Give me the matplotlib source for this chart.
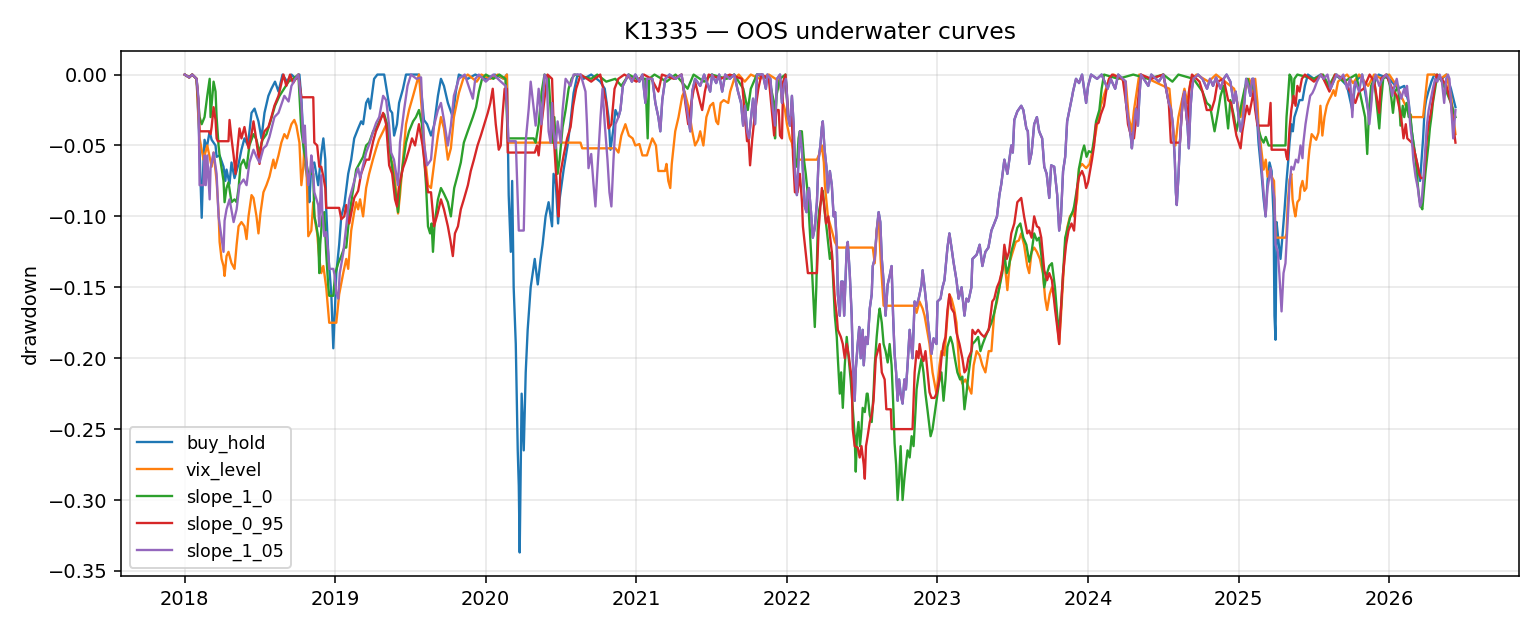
import numpy as np
import pandas as pd
import matplotlib
matplotlib.use("Agg")
import matplotlib.pyplot as plt
import matplotlib.dates as mdates

# -------------------------------
# Data: (years since 2018-01-01, drawdown)
# -------------------------------
START = pd.Timestamp("2018-01-01")

# buy_hold, before it merges with slope_1_05
buy_hold_head = [
    (0.000, 0.0), (0.030, -0.002), (0.050, 0.0), (0.079, -0.003), (0.095, -0.040), (0.113, -0.101),
    (0.125, -0.060), (0.132, -0.046), (0.146, -0.052), (0.166, -0.040), (0.179, -0.046), (0.205, -0.050),
    (0.212, -0.058), (0.232, -0.057), (0.258, -0.065), (0.270, -0.075), (0.278, -0.067), (0.298, -0.077),
    (0.311, -0.062), (0.331, -0.073), (0.358, -0.063), (0.377, -0.053), (0.397, -0.045), (0.420, -0.050),
    (0.444, -0.027), (0.464, -0.024), (0.490, -0.033), (0.510, -0.045), (0.530, -0.027), (0.556, -0.015),
    (0.576, -0.010), (0.600, -0.005), (0.623, -0.012), (0.650, 0.0), (0.680, -0.005), (0.709, 0.0),
    (0.740, -0.003), (0.762, 0.0), (0.775, -0.017), (0.795, -0.060), (0.821, -0.078), (0.828, -0.090),
    (0.841, -0.064), (0.861, -0.062), (0.887, -0.078), (0.907, -0.056), (0.921, -0.045), (0.934, -0.060),
    (0.940, -0.095), (0.954, -0.127), (0.974, -0.155), (0.987, -0.193), (1.000, -0.160), (1.007, -0.140),
    (1.026, -0.120), (1.040, -0.100), (1.060, -0.092), (1.086, -0.070), (1.106, -0.060), (1.126, -0.045),
    (1.152, -0.038), (1.172, -0.033), (1.185, -0.035), (1.205, -0.020), (1.219, -0.017), (1.232, -0.024),
    (1.258, -0.003), (1.280, 0.0), (1.325, 0.0), (1.351, -0.017), (1.364, -0.025), (1.378, -0.027),
    (1.391, -0.043), (1.410, -0.035), (1.424, -0.020), (1.450, -0.010), (1.470, 0.0), (1.556, 0.0),
    (1.576, -0.017), (1.589, -0.032), (1.610, -0.035), (1.636, -0.043), (1.656, -0.036), (1.682, -0.015),
    (1.702, -0.003), (1.722, -0.008), (1.748, -0.020), (1.781, -0.030), (1.801, -0.012), (1.821, 0.0),
    (1.880, -0.003), (1.930, 0.0), (2.000, -0.003), (2.060, 0.0), (2.120, -0.003), (2.140, 0.0),
    (2.152, -0.085), (2.166, -0.125), (2.175, -0.075), (2.185, -0.150), (2.199, -0.190), (2.212, -0.265),
    (2.219, -0.290), (2.225, -0.337), (2.238, -0.225), (2.252, -0.265), (2.265, -0.210), (2.278, -0.180),
    (2.298, -0.150), (2.325, -0.130), (2.345, -0.148), (2.364, -0.130), (2.377, -0.120), (2.397, -0.100),
    (2.417, -0.090), (2.440, -0.107), (2.450, -0.070), (2.465, -0.077), (2.480, -0.105), (2.490, -0.088),
    (2.517, -0.067), (2.543, -0.050), (2.563, -0.033), (2.583, -0.013), (2.609, 0.0), (2.650, -0.003),
    (2.700, 0.0), (2.760, -0.005), (2.790, -0.010), (2.815, -0.030), (2.828, -0.053), (2.845, -0.040),
    (2.861, -0.025), (2.881, -0.030),
]

# stretch where buy_hold and slope_1_05 overlap (late 2020 to early 2025)
shared_mid = [
    (2.894, -0.025), (2.910, -0.008), (2.947, 0.0), (2.970, -0.005), (2.993, 0.0), (3.020, -0.005),
    (3.040, 0.0), (3.060, -0.020), (3.070, -0.003), (3.106, -0.003), (3.126, -0.020), (3.146, -0.030),
    (3.159, -0.040), (3.172, -0.018), (3.192, -0.003), (3.220, 0.0), (3.260, -0.003), (3.300, 0.0),
    (3.344, -0.030), (3.358, -0.040), (3.371, -0.012), (3.390, -0.003), (3.424, -0.008), (3.450, 0.0),
    (3.490, -0.012), (3.503, 0.0), (3.530, -0.006), (3.550, 0.0), (3.570, -0.012), (3.590, 0.0),
    (3.620, -0.003), (3.650, 0.0), (3.675, -0.012), (3.695, -0.020), (3.709, -0.036), (3.722, -0.022),
    (3.735, -0.040), (3.748, -0.045), (3.762, -0.030), (3.775, -0.017), (3.788, -0.035), (3.801, 0.0),
    (3.840, 0.0), (3.860, -0.010), (3.870, 0.0), (3.890, -0.003), (3.907, -0.025), (3.921, -0.036),
    (3.934, -0.003), (3.954, 0.0), (3.967, -0.020), (3.980, -0.007), (3.993, -0.003), (4.000, -0.014),
    (4.007, -0.030), (4.020, -0.036), (4.033, -0.015), (4.045, -0.036), (4.053, -0.070), (4.066, -0.085),
    (4.077, -0.060), (4.086, -0.040), (4.099, -0.052), (4.110, -0.077), (4.119, -0.093), (4.130, -0.097),
    (4.139, -0.083), (4.146, -0.080), (4.160, -0.097), (4.172, -0.115), (4.185, -0.108), (4.199, -0.090),
    (4.210, -0.060), (4.222, -0.050), (4.232, -0.037), (4.238, -0.033), (4.250, -0.053), (4.262, -0.065),
    (4.272, -0.083), (4.285, -0.068), (4.298, -0.078), (4.310, -0.100), (4.320, -0.097), (4.331, -0.120),
    (4.338, -0.155), (4.351, -0.170), (4.360, -0.146), (4.371, -0.146), (4.380, -0.170), (4.397, -0.122),
    (4.404, -0.118), (4.417, -0.140), (4.430, -0.170), (4.437, -0.200), (4.450, -0.230), (4.457, -0.208),
    (4.470, -0.190), (4.480, -0.178), (4.490, -0.200), (4.503, -0.180), (4.510, -0.205), (4.523, -0.185),
    (4.536, -0.190), (4.550, -0.165), (4.563, -0.155), (4.570, -0.135), (4.583, -0.130), (4.596, -0.110),
    (4.609, -0.097), (4.620, -0.104), (4.630, -0.130), (4.642, -0.146), (4.655, -0.170), (4.669, -0.148),
    (4.682, -0.142), (4.695, -0.135), (4.705, -0.170), (4.715, -0.197), (4.725, -0.210), (4.735, -0.230),
    (4.745, -0.215), (4.755, -0.225), (4.768, -0.232), (4.780, -0.215), (4.790, -0.222), (4.801, -0.205),
    (4.815, -0.180), (4.834, -0.200), (4.848, -0.160), (4.861, -0.163), (4.875, -0.158), (4.894, -0.148),
    (4.901, -0.138), (4.914, -0.150), (4.927, -0.163), (4.940, -0.178), (4.960, -0.197), (4.974, -0.186),
    (4.993, -0.190), (5.000, -0.160), (5.020, -0.158), (5.033, -0.150), (5.046, -0.145), (5.066, -0.122),
    (5.079, -0.112), (5.093, -0.122), (5.106, -0.132), (5.126, -0.145), (5.140, -0.158), (5.160, -0.150),
    (5.179, -0.170), (5.192, -0.158), (5.205, -0.160), (5.225, -0.150), (5.232, -0.130), (5.260, -0.127),
    (5.280, -0.120), (5.298, -0.135), (5.318, -0.125), (5.338, -0.122), (5.358, -0.110), (5.377, -0.105),
    (5.395, -0.100), (5.411, -0.085), (5.424, -0.077), (5.444, -0.060), (5.464, -0.070), (5.477, -0.060),
    (5.490, -0.050), (5.500, -0.055), (5.510, -0.032), (5.530, -0.026), (5.556, -0.022), (5.570, -0.025),
    (5.590, -0.038), (5.600, -0.040), (5.609, -0.063), (5.625, -0.055), (5.642, -0.035), (5.660, -0.030),
    (5.675, -0.040), (5.695, -0.045), (5.709, -0.065), (5.725, -0.070), (5.742, -0.087), (5.755, -0.064),
    (5.775, -0.065), (5.795, -0.085), (5.808, -0.110), (5.820, -0.100), (5.834, -0.068), (5.848, -0.058),
    (5.861, -0.033), (5.880, -0.023), (5.895, -0.015), (5.900, -0.012), (5.920, -0.003), (5.940, -0.006),
    (5.960, 0.0), (5.987, -0.020), (6.000, -0.008), (6.020, 0.0), (6.060, -0.003), (6.090, 0.0),
    (6.130, -0.010), (6.150, -0.003), (6.180, -0.010), (6.200, 0.0), (6.250, -0.005), (6.252, -0.020),
    (6.265, -0.030), (6.272, -0.035), (6.285, -0.045), (6.291, -0.052), (6.305, -0.035), (6.318, -0.024),
    (6.331, -0.036), (6.340, -0.017), (6.351, 0.0), (6.400, -0.008), (6.420, 0.0), (6.470, -0.005),
    (6.500, 0.0), (6.536, -0.020), (6.550, -0.024), (6.563, -0.035), (6.576, -0.060), (6.583, -0.083),
    (6.589, -0.092), (6.600, -0.072), (6.610, -0.048), (6.620, -0.030), (6.630, -0.017), (6.640, -0.012),
    (6.649, -0.024), (6.660, -0.035), (6.669, -0.052), (6.680, -0.024), (6.690, -0.010), (6.700, -0.003),
    (6.730, 0.0), (6.760, -0.003), (6.790, -0.010), (6.810, -0.003), (6.830, -0.008), (6.850, -0.002),
    (6.880, -0.010), (6.900, -0.003), (6.920, 0.0), (6.945, -0.005), (6.967, -0.020), (6.980, -0.012),
    (6.990, -0.020), (7.000, -0.030), (7.013, -0.040), (7.025, -0.035), (7.040, -0.017), (7.050, -0.003),
    (7.065, -0.008), (7.078, -0.015), (7.090, -0.003), (7.099, -0.003),
]

buy_hold_tail = [
    (7.119, -0.025), (7.132, -0.048), (7.152, -0.070), (7.166, -0.088), (7.179, -0.100), (7.192, -0.075),
    (7.205, -0.062), (7.219, -0.068), (7.232, -0.100), (7.238, -0.170), (7.245, -0.187), (7.252, -0.104),
    (7.265, -0.118), (7.278, -0.130), (7.290, -0.115), (7.305, -0.095), (7.318, -0.075), (7.330, -0.060),
    (7.338, -0.048), (7.350, -0.035), (7.360, -0.040), (7.370, -0.030), (7.385, -0.025), (7.404, -0.018),
    (7.424, -0.018), (7.440, -0.008), (7.460, 0.0), (7.500, -0.003), (7.545, 0.0), (7.610, -0.010),
    (7.650, 0.0), (7.720, -0.008), (7.755, -0.025), (7.775, -0.005), (7.820, 0.0), (7.868, -0.030),
    (7.890, -0.008), (7.930, 0.0), (8.000, -0.003), (8.060, -0.010), (8.100, -0.008), (8.130, -0.020),
    (8.150, -0.040), (8.170, -0.055), (8.190, -0.065), (8.205, -0.075), (8.215, -0.060), (8.225, -0.045),
    (8.235, -0.025), (8.245, -0.018), (8.260, -0.012), (8.280, -0.005), (8.300, 0.0), (8.350, -0.003),
    (8.380, 0.0), (8.410, -0.010), (8.440, -0.023),
]

slope_1_05_head = [
    (0.000, 0.0), (0.030, -0.002), (0.050, 0.0), (0.079, -0.003), (0.092, -0.017), (0.099, -0.078),
    (0.125, -0.078), (0.132, -0.057), (0.140, -0.078), (0.150, -0.057), (0.166, -0.088), (0.172, -0.066),
    (0.192, -0.055), (0.212, -0.070), (0.225, -0.100), (0.245, -0.115), (0.258, -0.125), (0.265, -0.103),
    (0.278, -0.095), (0.298, -0.088), (0.325, -0.104), (0.345, -0.095), (0.364, -0.078), (0.391, -0.074),
    (0.411, -0.078), (0.430, -0.062), (0.457, -0.053), (0.477, -0.058), (0.497, -0.062), (0.523, -0.052),
    (0.543, -0.050), (0.563, -0.044), (0.596, -0.030), (0.623, -0.027), (0.662, -0.015), (0.690, -0.019),
    (0.709, -0.008), (0.735, -0.003), (0.755, 0.0), (0.775, -0.020), (0.788, -0.048), (0.798, -0.036),
    (0.808, -0.060), (0.821, -0.078), (0.834, -0.068), (0.841, -0.057), (0.850, -0.064), (0.861, -0.083),
    (0.887, -0.092), (0.894, -0.107), (0.907, -0.071), (0.914, -0.097), (0.927, -0.114), (0.940, -0.111),
    (0.954, -0.126), (0.960, -0.137), (0.987, -0.137), (0.995, -0.141), (1.007, -0.154), (1.020, -0.158),
    (1.030, -0.140), (1.053, -0.126), (1.073, -0.107), (1.093, -0.088), (1.119, -0.078), (1.139, -0.070),
    (1.152, -0.066), (1.165, -0.073), (1.205, -0.055), (1.230, -0.048), (1.252, -0.040), (1.272, -0.034),
    (1.292, -0.030), (1.318, -0.015), (1.338, -0.018), (1.358, -0.036), (1.371, -0.055), (1.390, -0.060),
    (1.417, -0.078), (1.430, -0.048), (1.457, -0.025), (1.480, -0.008), (1.503, 0.0), (1.540, -0.003),
    (1.570, -0.002), (1.589, -0.048), (1.610, -0.064), (1.636, -0.060), (1.656, -0.036), (1.682, -0.025),
    (1.702, -0.020), (1.722, -0.032), (1.748, -0.050), (1.768, -0.036), (1.788, -0.015), (1.821, -0.003),
    (1.860, 0.0), (1.914, -0.017), (1.930, -0.003), (1.954, 0.0), (2.000, -0.005), (2.050, 0.0),
    (2.100, -0.005), (2.132, -0.008), (2.152, -0.047), (2.199, -0.047), (2.219, -0.110), (2.252, -0.110),
    (2.265, -0.047), (2.285, -0.024), (2.298, -0.005), (2.331, -0.036), (2.351, -0.010), (2.370, -0.035),
    (2.390, 0.0), (2.405, -0.003), (2.417, -0.040), (2.430, -0.048), (2.440, -0.020), (2.450, -0.040),
    (2.464, -0.052), (2.477, -0.033), (2.497, -0.048), (2.510, -0.025), (2.530, -0.003), (2.563, -0.008),
    (2.583, 0.0), (2.630, 0.0), (2.662, -0.012), (2.672, -0.035), (2.682, -0.066), (2.700, -0.056),
    (2.715, -0.077), (2.728, -0.093), (2.740, -0.070), (2.762, -0.030), (2.775, -0.010), (2.790, -0.035),
    (2.808, -0.060), (2.821, -0.083), (2.834, -0.093), (2.848, -0.060), (2.861, -0.035), (2.881, -0.030),
]

slope_1_05_tail = [
    (7.119, -0.027), (7.132, -0.040), (7.145, -0.055), (7.152, -0.065), (7.166, -0.083), (7.179, -0.100),
    (7.192, -0.080), (7.200, -0.075), (7.212, -0.066), (7.225, -0.078), (7.238, -0.088), (7.245, -0.120),
    (7.260, -0.125), (7.270, -0.140), (7.285, -0.167), (7.298, -0.140), (7.311, -0.133), (7.320, -0.115),
    (7.330, -0.096), (7.338, -0.078), (7.350, -0.065), (7.365, -0.067), (7.380, -0.060), (7.395, -0.062),
    (7.404, -0.056), (7.411, -0.050), (7.424, -0.059), (7.430, -0.048), (7.444, -0.035), (7.460, -0.024),
    (7.475, -0.015), (7.490, -0.013), (7.503, -0.010), (7.520, -0.005), (7.545, 0.0), (7.565, -0.003),
    (7.590, 0.0), (7.610, -0.010), (7.630, -0.005), (7.650, 0.0), (7.675, -0.003), (7.695, 0.0),
    (7.720, -0.010), (7.740, -0.003), (7.755, -0.030), (7.765, -0.010), (7.775, -0.005), (7.800, -0.012),
    (7.820, 0.0), (7.845, -0.012), (7.858, -0.024), (7.868, -0.035), (7.880, -0.022), (7.890, -0.008),
    (7.910, 0.0), (7.934, -0.008), (7.955, -0.003), (7.980, 0.0), (8.000, -0.003), (8.020, -0.015),
    (8.035, -0.008), (8.050, -0.003), (8.065, -0.012), (8.080, -0.017), (8.090, -0.013), (8.100, -0.010),
    (8.110, -0.015), (8.118, -0.008), (8.128, -0.018), (8.140, -0.036), (8.150, -0.045), (8.160, -0.060),
    (8.175, -0.072), (8.190, -0.080), (8.205, -0.093), (8.215, -0.090), (8.228, -0.072), (8.238, -0.055),
    (8.250, -0.036), (8.262, -0.025), (8.275, -0.018), (8.290, -0.010), (8.305, -0.003), (8.320, -0.005),
    (8.335, 0.0), (8.350, -0.005), (8.365, -0.020), (8.378, -0.003), (8.390, 0.0), (8.400, -0.003),
    (8.410, -0.020), (8.425, -0.045), (8.440, -0.025),
]

vix_level = [
    (0.000, 0.0), (0.030, -0.002), (0.050, 0.0), (0.079, -0.003), (0.099, -0.045), (0.125, -0.060),
    (0.150, -0.050), (0.179, -0.065), (0.192, -0.055), (0.212, -0.075), (0.225, -0.097), (0.232, -0.118),
    (0.245, -0.130), (0.258, -0.135), (0.265, -0.142), (0.278, -0.128), (0.291, -0.125), (0.311, -0.133),
    (0.331, -0.137), (0.345, -0.120), (0.358, -0.107), (0.377, -0.104), (0.397, -0.107), (0.411, -0.116),
    (0.424, -0.100), (0.444, -0.085), (0.457, -0.087), (0.477, -0.100), (0.490, -0.112), (0.503, -0.098),
    (0.523, -0.083), (0.543, -0.078), (0.563, -0.072), (0.589, -0.060), (0.600, -0.066), (0.623, -0.057),
    (0.642, -0.048), (0.662, -0.042), (0.680, -0.045), (0.709, -0.035), (0.728, -0.032), (0.742, -0.036),
    (0.762, -0.048), (0.775, -0.078), (0.788, -0.065), (0.795, -0.050), (0.808, -0.060), (0.821, -0.114),
    (0.841, -0.110), (0.854, -0.090), (0.867, -0.104), (0.880, -0.112), (0.894, -0.130), (0.907, -0.140),
    (0.921, -0.135), (0.940, -0.150), (0.960, -0.175), (1.007, -0.175), (1.026, -0.155), (1.053, -0.140),
    (1.073, -0.130), (1.086, -0.137), (1.106, -0.110), (1.126, -0.097), (1.139, -0.090), (1.152, -0.095),
    (1.165, -0.088), (1.185, -0.100), (1.205, -0.080), (1.225, -0.070), (1.250, -0.060), (1.272, -0.052),
    (1.290, -0.046), (1.318, -0.040), (1.340, -0.035), (1.358, -0.042), (1.371, -0.060), (1.390, -0.066),
    (1.417, -0.098), (1.430, -0.085), (1.450, -0.060), (1.470, -0.035), (1.490, -0.025), (1.517, -0.015),
    (1.540, -0.006), (1.556, 0.0), (1.575, -0.025), (1.603, -0.065), (1.616, -0.078), (1.636, -0.080),
    (1.660, -0.060), (1.682, -0.043), (1.702, -0.030), (1.722, -0.038), (1.748, -0.060), (1.768, -0.052),
    (1.788, -0.030), (1.821, -0.013), (1.850, -0.003), (1.880, 0.0), (1.940, -0.005), (1.970, 0.0),
    (2.030, -0.003), (2.080, 0.0), (2.120, -0.003), (2.140, 0.0), (2.146, -0.048), (2.629, -0.048),
    (2.640, -0.052), (2.861, -0.052), (2.881, -0.055), (2.900, -0.043), (2.927, -0.035), (2.950, -0.043),
    (2.975, -0.045), (2.993, -0.050), (3.020, -0.049), (3.040, -0.057), (3.070, -0.057), (3.090, -0.050),
    (3.106, -0.045), (3.130, -0.050), (3.146, -0.068), (3.190, -0.068), (3.200, -0.063), (3.212, -0.075),
    (3.225, -0.080), (3.235, -0.063), (3.258, -0.040), (3.280, -0.030), (3.305, -0.015), (3.320, -0.012),
    (3.344, -0.022), (3.371, -0.040), (3.390, -0.050), (3.410, -0.046), (3.424, -0.040), (3.445, -0.050),
    (3.465, -0.030), (3.490, -0.022), (3.510, -0.020), (3.530, -0.033), (3.543, -0.035), (3.560, -0.020),
    (3.580, -0.018), (3.610, -0.020), (3.623, -0.012), (3.650, -0.003), (3.680, 0.0), (3.720, -0.005),
    (3.760, 0.0), (3.820, -0.003), (3.880, 0.0), (3.954, -0.005), (3.967, -0.017), (3.987, -0.025),
    (4.000, -0.035), (4.020, -0.045), (4.033, -0.048), (4.053, -0.060), (4.199, -0.060), (4.219, -0.055),
    (4.232, -0.050), (4.245, -0.062), (4.252, -0.078), (4.272, -0.100), (4.298, -0.110), (4.318, -0.118),
    (4.338, -0.122), (4.570, -0.122), (4.583, -0.133), (4.596, -0.110), (4.609, -0.100), (4.622, -0.130),
    (4.642, -0.163), (4.848, -0.163), (4.861, -0.168), (4.880, -0.160), (4.901, -0.165), (4.914, -0.170),
    (4.927, -0.178), (4.947, -0.190), (4.967, -0.210), (4.993, -0.225), (5.013, -0.205), (5.026, -0.195),
    (5.046, -0.198), (5.066, -0.170), (5.079, -0.155), (5.093, -0.158), (5.110, -0.165), (5.126, -0.175),
    (5.146, -0.210), (5.165, -0.218), (5.185, -0.215), (5.205, -0.220), (5.225, -0.225), (5.240, -0.205),
    (5.260, -0.195), (5.280, -0.198), (5.298, -0.205), (5.318, -0.210), (5.340, -0.195), (5.358, -0.195),
    (5.377, -0.168), (5.395, -0.160), (5.411, -0.150), (5.424, -0.140), (5.444, -0.130), (5.464, -0.152),
    (5.480, -0.132), (5.500, -0.125), (5.520, -0.118), (5.540, -0.117), (5.556, -0.112), (5.575, -0.120),
    (5.596, -0.135), (5.609, -0.140), (5.625, -0.125), (5.642, -0.122), (5.660, -0.125), (5.680, -0.130),
    (5.700, -0.140), (5.715, -0.158), (5.728, -0.166), (5.745, -0.155), (5.760, -0.150), (5.780, -0.160),
    (5.795, -0.175), (5.808, -0.190), (5.820, -0.170), (5.834, -0.145), (5.848, -0.120), (5.861, -0.108),
    (5.880, -0.100), (5.900, -0.097), (5.907, -0.100), (5.927, -0.088), (5.940, -0.066), (5.960, -0.063),
    (5.987, -0.066), (6.010, -0.063), (6.026, -0.055), (6.040, -0.048), (6.060, -0.035), (6.085, -0.022),
    (6.110, -0.013), (6.140, -0.003), (6.170, 0.0), (6.250, -0.005), (6.270, -0.030), (6.290, -0.040),
    (6.305, -0.025), (6.340, 0.0), (6.540, -0.010), (6.560, -0.035), (6.580, -0.050), (6.600, -0.030),
    (6.640, -0.010), (6.660, -0.020), (6.680, -0.005), (6.720, 0.0), (6.800, -0.005), (6.850, 0.0),
    (6.970, -0.010), (7.013, -0.030), (7.040, -0.012), (7.070, -0.003), (7.099, -0.012), (7.110, -0.003),
    (7.125, -0.020), (7.132, -0.036), (7.145, -0.048), (7.166, -0.067), (7.180, -0.060), (7.192, -0.072),
    (7.205, -0.068), (7.219, -0.072), (7.235, -0.075), (7.245, -0.115), (7.311, -0.115), (7.318, -0.112),
    (7.325, -0.093), (7.338, -0.074), (7.350, -0.070), (7.358, -0.088), (7.371, -0.097), (7.377, -0.100),
    (7.390, -0.090), (7.404, -0.088), (7.411, -0.080), (7.424, -0.075), (7.437, -0.082), (7.450, -0.080),
    (7.462, -0.062), (7.470, -0.053), (7.485, -0.042), (7.500, -0.044), (7.515, -0.046), (7.530, -0.041),
    (7.543, -0.022), (7.556, -0.043), (7.570, -0.030), (7.585, -0.022), (7.600, -0.018), (7.615, -0.015),
    (7.630, -0.011), (7.642, -0.015), (7.660, -0.005), (7.680, -0.003), (7.720, 0.0), (7.760, -0.006),
    (7.800, 0.0), (7.860, -0.008), (7.900, 0.0), (7.950, -0.003), (8.000, 0.0), (8.050, -0.008),
    (8.100, -0.020), (8.150, -0.030), (8.225, -0.030), (8.240, -0.015), (8.255, 0.0), (8.300, 0.0),
    (8.340, -0.003), (8.380, 0.0), (8.410, -0.015), (8.440, -0.042),
]

slope_1_0 = [
    (0.000, 0.0), (0.030, -0.002), (0.050, 0.0), (0.079, -0.003), (0.099, -0.030), (0.113, -0.035),
    (0.132, -0.030), (0.150, -0.015), (0.166, -0.003), (0.172, -0.030), (0.192, -0.005), (0.205, -0.012),
    (0.212, -0.030), (0.225, -0.050), (0.232, -0.057), (0.245, -0.066), (0.258, -0.075), (0.265, -0.090),
    (0.278, -0.080), (0.291, -0.076), (0.311, -0.090), (0.331, -0.088), (0.345, -0.090), (0.358, -0.080),
    (0.371, -0.064), (0.391, -0.060), (0.411, -0.066), (0.430, -0.050), (0.457, -0.042), (0.477, -0.046),
    (0.497, -0.055), (0.517, -0.046), (0.543, -0.042), (0.570, -0.033), (0.600, -0.022), (0.630, -0.015),
    (0.660, -0.010), (0.690, -0.005), (0.720, -0.003), (0.755, 0.0), (0.775, -0.040), (0.795, -0.055),
    (0.808, -0.062), (0.821, -0.070), (0.854, -0.070), (0.861, -0.100), (0.874, -0.106), (0.887, -0.115),
    (0.894, -0.140), (0.900, -0.120), (0.914, -0.100), (0.927, -0.097), (0.940, -0.126), (0.954, -0.150),
    (0.960, -0.156), (0.987, -0.156), (1.000, -0.140), (1.020, -0.133), (1.040, -0.128), (1.060, -0.122),
    (1.073, -0.122), (1.093, -0.100), (1.113, -0.085), (1.139, -0.067), (1.165, -0.062), (1.185, -0.058),
    (1.205, -0.050), (1.225, -0.048), (1.252, -0.040), (1.272, -0.038), (1.305, -0.030), (1.325, -0.028),
    (1.345, -0.035), (1.371, -0.060), (1.390, -0.075), (1.417, -0.097), (1.430, -0.078), (1.450, -0.063),
    (1.470, -0.048), (1.490, -0.040), (1.517, -0.033), (1.536, -0.030), (1.556, -0.025), (1.576, -0.035),
    (1.603, -0.078), (1.616, -0.107), (1.630, -0.112), (1.640, -0.105), (1.649, -0.125), (1.660, -0.105),
    (1.682, -0.088), (1.702, -0.080), (1.722, -0.084), (1.748, -0.090), (1.768, -0.100), (1.790, -0.080),
    (1.815, -0.070), (1.834, -0.062), (1.854, -0.048), (1.880, -0.040), (1.914, -0.030), (1.935, -0.023),
    (1.954, -0.012), (1.975, -0.003), (2.000, 0.0), (2.050, -0.003), (2.090, 0.0), (2.130, -0.003),
    (2.146, -0.045), (2.318, -0.045), (2.331, -0.048), (2.351, -0.035), (2.371, -0.012), (2.390, 0.0),
    (2.417, -0.002), (2.444, -0.048), (2.455, -0.030), (2.477, -0.070), (2.490, -0.060), (2.510, -0.037),
    (2.530, -0.025), (2.550, -0.010), (2.570, -0.003), (2.590, 0.0), (2.700, -0.003), (2.740, 0.0),
    (2.800, -0.005), (2.860, -0.003), (2.900, -0.008), (2.950, 0.0), (3.000, -0.003), (3.060, -0.003),
    (3.075, -0.045), (3.085, -0.003), (3.120, 0.0), (3.200, -0.005), (3.260, 0.0), (3.340, -0.010),
    (3.380, 0.0), (3.450, -0.005), (3.500, 0.0), (3.600, -0.003), (3.650, 0.0), (3.710, -0.010),
    (3.740, -0.025), (3.760, -0.010), (3.800, 0.0), (3.880, -0.003), (3.915, -0.020), (3.921, -0.045),
    (3.930, -0.015), (3.954, -0.003), (3.990, 0.0), (4.007, -0.030), (4.033, -0.030), (4.045, -0.045),
    (4.053, -0.060), (4.066, -0.065), (4.077, -0.045), (4.086, -0.040), (4.099, -0.040), (4.113, -0.060),
    (4.125, -0.070), (4.139, -0.085), (4.152, -0.110), (4.165, -0.135), (4.185, -0.178), (4.195, -0.150),
    (4.205, -0.107), (4.215, -0.095), (4.225, -0.090), (4.238, -0.082), (4.252, -0.098), (4.265, -0.110),
    (4.285, -0.130), (4.298, -0.125), (4.318, -0.170), (4.331, -0.185), (4.338, -0.200), (4.351, -0.225),
    (4.360, -0.210), (4.371, -0.235), (4.384, -0.205), (4.397, -0.185), (4.410, -0.200), (4.423, -0.215),
    (4.437, -0.235), (4.450, -0.255), (4.457, -0.280), (4.465, -0.255), (4.475, -0.245), (4.485, -0.262),
    (4.495, -0.250), (4.503, -0.235), (4.517, -0.238), (4.530, -0.225), (4.536, -0.225), (4.550, -0.240),
    (4.563, -0.245), (4.575, -0.225), (4.583, -0.205), (4.596, -0.185), (4.609, -0.170), (4.616, -0.165),
    (4.630, -0.175), (4.642, -0.190), (4.655, -0.195), (4.669, -0.203), (4.682, -0.190), (4.695, -0.205),
    (4.705, -0.230), (4.715, -0.260), (4.725, -0.275), (4.735, -0.300), (4.745, -0.285), (4.755, -0.262),
    (4.768, -0.300), (4.780, -0.285), (4.790, -0.275), (4.801, -0.265), (4.815, -0.270), (4.828, -0.255),
    (4.841, -0.262), (4.855, -0.235), (4.861, -0.222), (4.874, -0.212), (4.894, -0.200), (4.907, -0.210),
    (4.920, -0.225), (4.934, -0.237), (4.954, -0.255), (4.967, -0.250), (4.980, -0.240), (4.993, -0.230),
    (5.013, -0.215), (5.026, -0.210), (5.040, -0.230), (5.053, -0.215), (5.066, -0.192), (5.086, -0.185),
    (5.100, -0.190), (5.115, -0.200), (5.132, -0.210), (5.150, -0.215), (5.165, -0.213), (5.179, -0.236),
    (5.192, -0.225), (5.205, -0.212), (5.232, -0.190), (5.250, -0.188), (5.270, -0.185), (5.285, -0.195),
    (5.300, -0.190), (5.318, -0.185), (5.338, -0.180), (5.358, -0.175), (5.377, -0.168), (5.395, -0.158),
    (5.411, -0.150), (5.430, -0.140), (5.444, -0.126), (5.460, -0.140), (5.475, -0.135), (5.490, -0.125),
    (5.510, -0.117), (5.530, -0.108), (5.550, -0.105), (5.570, -0.115), (5.590, -0.120), (5.609, -0.132),
    (5.625, -0.125), (5.642, -0.112), (5.660, -0.117), (5.675, -0.115), (5.695, -0.132), (5.709, -0.150),
    (5.728, -0.140), (5.742, -0.135), (5.760, -0.133), (5.780, -0.150), (5.795, -0.170), (5.808, -0.182),
    (5.820, -0.165), (5.834, -0.140), (5.848, -0.115), (5.865, -0.108), (5.880, -0.101), (5.900, -0.096),
    (5.907, -0.093), (5.927, -0.080), (5.940, -0.066), (5.960, -0.055), (5.974, -0.050), (5.990, -0.058),
    (6.005, -0.054), (6.026, -0.055), (6.040, -0.045), (6.053, -0.033), (6.075, -0.025), (6.090, -0.010),
    (6.106, 0.0), (6.200, -0.003), (6.300, 0.0), (6.400, -0.003), (6.500, 0.0), (6.560, -0.005),
    (6.600, 0.0), (6.700, -0.003), (6.760, -0.012), (6.788, -0.020), (6.810, -0.022), (6.840, -0.040),
    (6.860, -0.028), (6.880, -0.015), (6.900, -0.008), (6.930, -0.038), (6.945, -0.018), (6.970, -0.030),
    (6.985, -0.040), (7.000, -0.032), (7.020, -0.020), (7.040, -0.010), (7.060, -0.003), (7.080, -0.012),
    (7.099, -0.005), (7.120, -0.030), (7.135, -0.040), (7.150, -0.045), (7.166, -0.048), (7.180, -0.044),
    (7.199, -0.050), (7.311, -0.050), (7.318, -0.030), (7.325, -0.020), (7.338, 0.0), (7.350, -0.002),
    (7.360, -0.020), (7.370, -0.003), (7.390, 0.0), (7.500, -0.003), (7.560, 0.0), (7.600, -0.008),
    (7.640, 0.0), (7.700, -0.005), (7.780, 0.0), (7.840, -0.030), (7.854, -0.056), (7.866, -0.025),
    (7.880, -0.008), (7.900, -0.003), (7.934, -0.038), (7.945, -0.020), (7.960, -0.003), (7.985, 0.0),
    (8.005, -0.008), (8.025, -0.027), (8.040, -0.012), (8.060, -0.008), (8.075, -0.036), (8.090, -0.022),
    (8.100, -0.030), (8.115, -0.020), (8.130, -0.030), (8.140, -0.028), (8.150, -0.040), (8.160, -0.048),
    (8.170, -0.055), (8.180, -0.065), (8.190, -0.078), (8.200, -0.088), (8.210, -0.093), (8.220, -0.095),
    (8.230, -0.082), (8.240, -0.070), (8.250, -0.060), (8.260, -0.050), (8.270, -0.038), (8.280, -0.030),
    (8.290, -0.020), (8.305, -0.010), (8.320, 0.0), (8.350, -0.005), (8.380, -0.012), (8.410, -0.020),
    (8.440, -0.030),
]

slope_0_95 = [
    (0.000, 0.0), (0.030, -0.002), (0.050, 0.0), (0.079, -0.003), (0.092, -0.020), (0.099, -0.040),
    (0.159, -0.040), (0.172, -0.042), (0.179, -0.037), (0.192, -0.023), (0.205, -0.032), (0.212, -0.045),
    (0.220, -0.047), (0.291, -0.047), (0.298, -0.032), (0.311, -0.045), (0.325, -0.057), (0.338, -0.070),
    (0.351, -0.052), (0.364, -0.038), (0.377, -0.045), (0.397, -0.037), (0.424, -0.052), (0.444, -0.042),
    (0.457, -0.033), (0.470, -0.042), (0.497, -0.063), (0.510, -0.048), (0.530, -0.040), (0.556, -0.037),
    (0.576, -0.030), (0.596, -0.022), (0.623, -0.015), (0.656, 0.0), (0.675, -0.008), (0.700, 0.0),
    (0.720, -0.006), (0.755, 0.0), (0.775, -0.016), (0.854, -0.016), (0.861, -0.048), (0.880, -0.050),
    (0.894, -0.065), (0.907, -0.065), (0.921, -0.072), (0.934, -0.080), (0.940, -0.094), (1.026, -0.094),
    (1.040, -0.102), (1.060, -0.100), (1.073, -0.092), (1.093, -0.105), (1.126, -0.087), (1.152, -0.082),
    (1.172, -0.070), (1.185, -0.066), (1.205, -0.060), (1.225, -0.060), (1.252, -0.047), (1.270, -0.040),
    (1.290, -0.035), (1.318, -0.027), (1.338, -0.035), (1.358, -0.064), (1.378, -0.070), (1.397, -0.088),
    (1.410, -0.093), (1.424, -0.078), (1.450, -0.066), (1.470, -0.060), (1.490, -0.053), (1.510, -0.045),
    (1.530, -0.050), (1.556, -0.035), (1.580, -0.050), (1.603, -0.072), (1.616, -0.083), (1.636, -0.083),
    (1.656, -0.107), (1.680, -0.098), (1.702, -0.088), (1.722, -0.095), (1.748, -0.107), (1.765, -0.117),
    (1.781, -0.128), (1.795, -0.112), (1.815, -0.107), (1.834, -0.095), (1.854, -0.088), (1.881, -0.078),
    (1.900, -0.068), (1.921, -0.060), (1.945, -0.050), (1.967, -0.043), (1.990, -0.035), (2.013, -0.027),
    (2.030, -0.020), (2.046, -0.010), (2.066, -0.035), (2.086, -0.053), (2.099, -0.050), (2.110, -0.030),
    (2.125, -0.010), (2.140, -0.010), (2.146, -0.055), (2.325, -0.055), (2.340, -0.050), (2.351, -0.057),
    (2.370, -0.035), (2.390, -0.017), (2.410, 0.0), (2.440, -0.003), (2.455, -0.050), (2.464, -0.066),
    (2.477, -0.086), (2.483, -0.100), (2.495, -0.070), (2.517, -0.057), (2.540, -0.045), (2.563, -0.037),
    (2.580, -0.022), (2.600, -0.010), (2.630, 0.0), (2.700, -0.005), (2.760, 0.0), (2.800, -0.020),
    (2.815, -0.038), (2.834, -0.035), (2.855, -0.010), (2.880, -0.003), (2.920, 0.0), (3.000, -0.005),
    (3.050, 0.0), (3.100, -0.003), (3.146, -0.012), (3.170, 0.0), (3.250, -0.003), (3.300, 0.0),
    (3.344, -0.035), (3.365, -0.020), (3.390, -0.005), (3.424, -0.020), (3.437, -0.025), (3.455, -0.012),
    (3.480, 0.0), (3.560, -0.003), (3.620, 0.0), (3.700, -0.003), (3.735, -0.047), (3.745, -0.045),
    (3.755, -0.064), (3.770, -0.045), (3.790, -0.025), (3.810, -0.010), (3.830, 0.0), (3.880, -0.003),
    (3.915, -0.043), (3.930, -0.025), (3.945, -0.025), (3.954, -0.043), (3.967, -0.045), (3.975, -0.005),
    (3.990, 0.0), (4.000, -0.015), (4.007, -0.030), (4.033, -0.030), (4.040, -0.057), (4.053, -0.083),
    (4.070, -0.083), (4.086, -0.070), (4.100, -0.090), (4.106, -0.107), (4.119, -0.120), (4.132, -0.133),
    (4.139, -0.140), (4.199, -0.140), (4.210, -0.110), (4.219, -0.097), (4.232, -0.080), (4.245, -0.090),
    (4.260, -0.105), (4.275, -0.100), (4.285, -0.113), (4.298, -0.125), (4.318, -0.158), (4.331, -0.170),
    (4.338, -0.180), (4.358, -0.185), (4.371, -0.190), (4.384, -0.200), (4.397, -0.190), (4.410, -0.198),
    (4.430, -0.214), (4.437, -0.250), (4.450, -0.262), (4.470, -0.263), (4.483, -0.270), (4.495, -0.262),
    (4.510, -0.275), (4.517, -0.285), (4.525, -0.262), (4.536, -0.255), (4.550, -0.245), (4.563, -0.240),
    (4.575, -0.230), (4.590, -0.200), (4.603, -0.195), (4.616, -0.190), (4.630, -0.210), (4.649, -0.215),
    (4.660, -0.236), (4.690, -0.236), (4.695, -0.250), (4.834, -0.250), (4.848, -0.210), (4.861, -0.195),
    (4.874, -0.200), (4.881, -0.190), (4.894, -0.198), (4.907, -0.202), (4.920, -0.195), (4.934, -0.210),
    (4.947, -0.224), (4.960, -0.228), (4.980, -0.228), (4.993, -0.225), (5.013, -0.215), (5.026, -0.200),
    (5.040, -0.190), (5.053, -0.185), (5.066, -0.166), (5.079, -0.155), (5.093, -0.165), (5.110, -0.168),
    (5.126, -0.182), (5.146, -0.190), (5.165, -0.200), (5.179, -0.210), (5.192, -0.208), (5.205, -0.200),
    (5.225, -0.195), (5.232, -0.180), (5.250, -0.183), (5.270, -0.180), (5.290, -0.183), (5.310, -0.185),
    (5.340, -0.180), (5.364, -0.160), (5.377, -0.158), (5.395, -0.150), (5.411, -0.146), (5.430, -0.138),
    (5.444, -0.120), (5.460, -0.130), (5.475, -0.125), (5.490, -0.112), (5.510, -0.105), (5.530, -0.090),
    (5.556, -0.087), (5.575, -0.100), (5.596, -0.112), (5.609, -0.110), (5.625, -0.115), (5.642, -0.100),
    (5.660, -0.107), (5.675, -0.108), (5.689, -0.115), (5.709, -0.138), (5.728, -0.145), (5.742, -0.140),
    (5.760, -0.145), (5.780, -0.165), (5.795, -0.178), (5.808, -0.190), (5.820, -0.165), (5.834, -0.140),
    (5.854, -0.120), (5.870, -0.110), (5.890, -0.105), (5.907, -0.110), (5.927, -0.080), (5.940, -0.072),
    (5.960, -0.068), (5.974, -0.072), (5.987, -0.080), (6.000, -0.076), (6.013, -0.068), (6.026, -0.060),
    (6.040, -0.050), (6.053, -0.035), (6.070, -0.034), (6.085, -0.028), (6.106, -0.022), (6.120, -0.012),
    (6.139, -0.003), (6.160, 0.0), (6.230, -0.003), (6.252, -0.020), (6.265, -0.035), (6.285, -0.043),
    (6.305, -0.045), (6.320, -0.030), (6.335, -0.015), (6.351, 0.0), (6.420, -0.003), (6.500, 0.0),
    (6.536, -0.020), (6.550, -0.048), (6.610, -0.048), (6.620, -0.030), (6.630, -0.017), (6.640, -0.012),
    (6.649, -0.024), (6.660, -0.035), (6.670, -0.012), (6.690, 0.0), (6.740, -0.005), (6.760, -0.012),
    (6.788, -0.025), (6.820, -0.025), (6.840, -0.018), (6.860, -0.005), (6.900, -0.003), (6.930, -0.018),
    (6.950, -0.020), (6.967, -0.032), (6.985, -0.043), (7.013, -0.052), (7.025, -0.040), (7.040, -0.030),
    (7.055, -0.022), (7.070, -0.028), (7.085, -0.020), (7.099, -0.012), (7.110, -0.025), (7.125, -0.036),
    (7.199, -0.036), (7.212, -0.020), (7.219, -0.053), (7.311, -0.053), (7.318, -0.058), (7.325, -0.060),
    (7.338, -0.038), (7.350, -0.025), (7.365, -0.015), (7.378, -0.022), (7.390, -0.008), (7.404, -0.012),
    (7.420, -0.003), (7.440, 0.0), (7.500, -0.005), (7.550, 0.0), (7.603, -0.012), (7.640, 0.0),
    (7.700, -0.003), (7.775, -0.020), (7.800, -0.012), (7.830, -0.010), (7.870, 0.0), (7.900, -0.005),
    (7.934, -0.027), (7.945, -0.003), (7.980, 0.0), (8.020, -0.010), (8.050, -0.015), (8.070, -0.025),
    (8.085, -0.035), (8.095, -0.045), (8.110, -0.035), (8.120, -0.045), (8.150, -0.048), (8.170, -0.055),
    (8.185, -0.062), (8.200, -0.070), (8.210, -0.073), (8.230, -0.073), (8.240, -0.060), (8.250, -0.045),
    (8.260, -0.036), (8.275, -0.028), (8.290, -0.018), (8.300, -0.010), (8.315, 0.0), (8.350, -0.003),
    (8.380, -0.008), (8.410, -0.020), (8.425, -0.035), (8.440, -0.048),
]

series_names = ["buy_hold", "vix_level", "slope_1_0", "slope_0_95", "slope_1_05"]
series_points = [
    buy_hold_head + shared_mid + buy_hold_tail,
    vix_level,
    slope_1_0,
    slope_0_95,
    slope_1_05_head + shared_mid + slope_1_05_tail,
]


def to_frame(points):
    arr = np.array(points)
    dates = START + pd.to_timedelta(arr[:, 0] * 365.25, unit="D")
    return pd.Series(arr[:, 1], index=dates)


# -------------------------------
# Plot
# -------------------------------
fig, ax = plt.subplots(figsize=(11, 4.5), dpi=140)

for name, pts in zip(series_names, series_points):
    s = to_frame(pts)
    ax.plot(s.index, s.values, lw=1.2, label=name)

ax.set_title("K1335 \u2014 OOS underwater curves")
ax.set_ylabel("drawdown")
ax.grid(True, alpha=0.3)
ax.xaxis.set_major_locator(mdates.YearLocator())
ax.xaxis.set_major_formatter(mdates.DateFormatter("%Y"))
ax.legend(loc="lower left", fontsize=9)

fig.tight_layout()
fig.savefig("out.png")
